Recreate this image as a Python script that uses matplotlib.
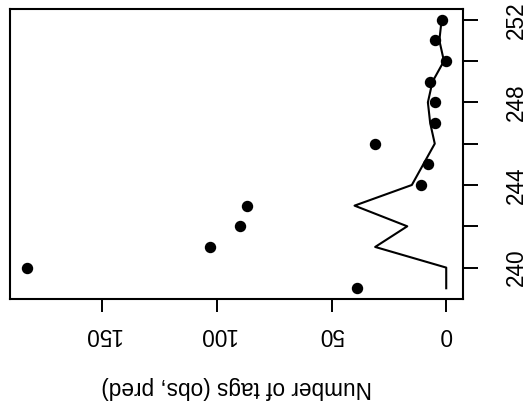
import matplotlib
matplotlib.use("Agg")
import matplotlib.pyplot as plt

# day of year
days = [239, 240, 241, 242, 243, 244, 245, 246, 247, 248, 249, 250, 251, 252]
# observed tag counts
obs = [39, 183, 103, 90, 87, 11, 8, 31, 5, 5, 7, 0, 5, 2]
# predicted tag counts
pred = [0, 0, 31, 17, 40, 15, 10, 5, 7, 8, 6, 1, 3, 2]

xticks = [0, 50, 100, 150]
yticks = [240, 242, 244, 246, 248, 250, 252]
ylabels = ["240", "", "244", "", "248", "", "252"]

plt.rcParams['font.family'] = ['Liberation Sans', 'DejaVu Sans']

fig = plt.figure(figsize=(5.27, 4.12), dpi=100)
ax = fig.add_axes([10 / 527, 113 / 412, 453 / 527, 290 / 412])

ax.plot(pred, days, 'k-', linewidth=1.5)
ax.plot(obs, days, 'ko', markersize=7.2)

ax.margins(x=0.04, y=0.04)
ax.invert_xaxis()

ax.yaxis.tick_right()
ax.set_yticks(yticks)
ax.set_yticklabels(ylabels, rotation=90, va='center', fontsize=16.3)
ax.set_xticks(xticks)
ax.set_xticklabels([str(v) for v in xticks], rotation=180, fontsize=16.3)
ax.tick_params(axis='both', direction='out', width=1.4, color='black')
ax.tick_params(axis='x', length=9, pad=8)
ax.tick_params(axis='y', length=11, pad=19)

ax.set_xlabel("Number of tags (obs, pred)", rotation=180, fontsize=16.3, labelpad=22)

for s in ax.spines.values():
    s.set_linewidth(1.5)

plt.savefig("out.png", dpi=100)
plt.close()
